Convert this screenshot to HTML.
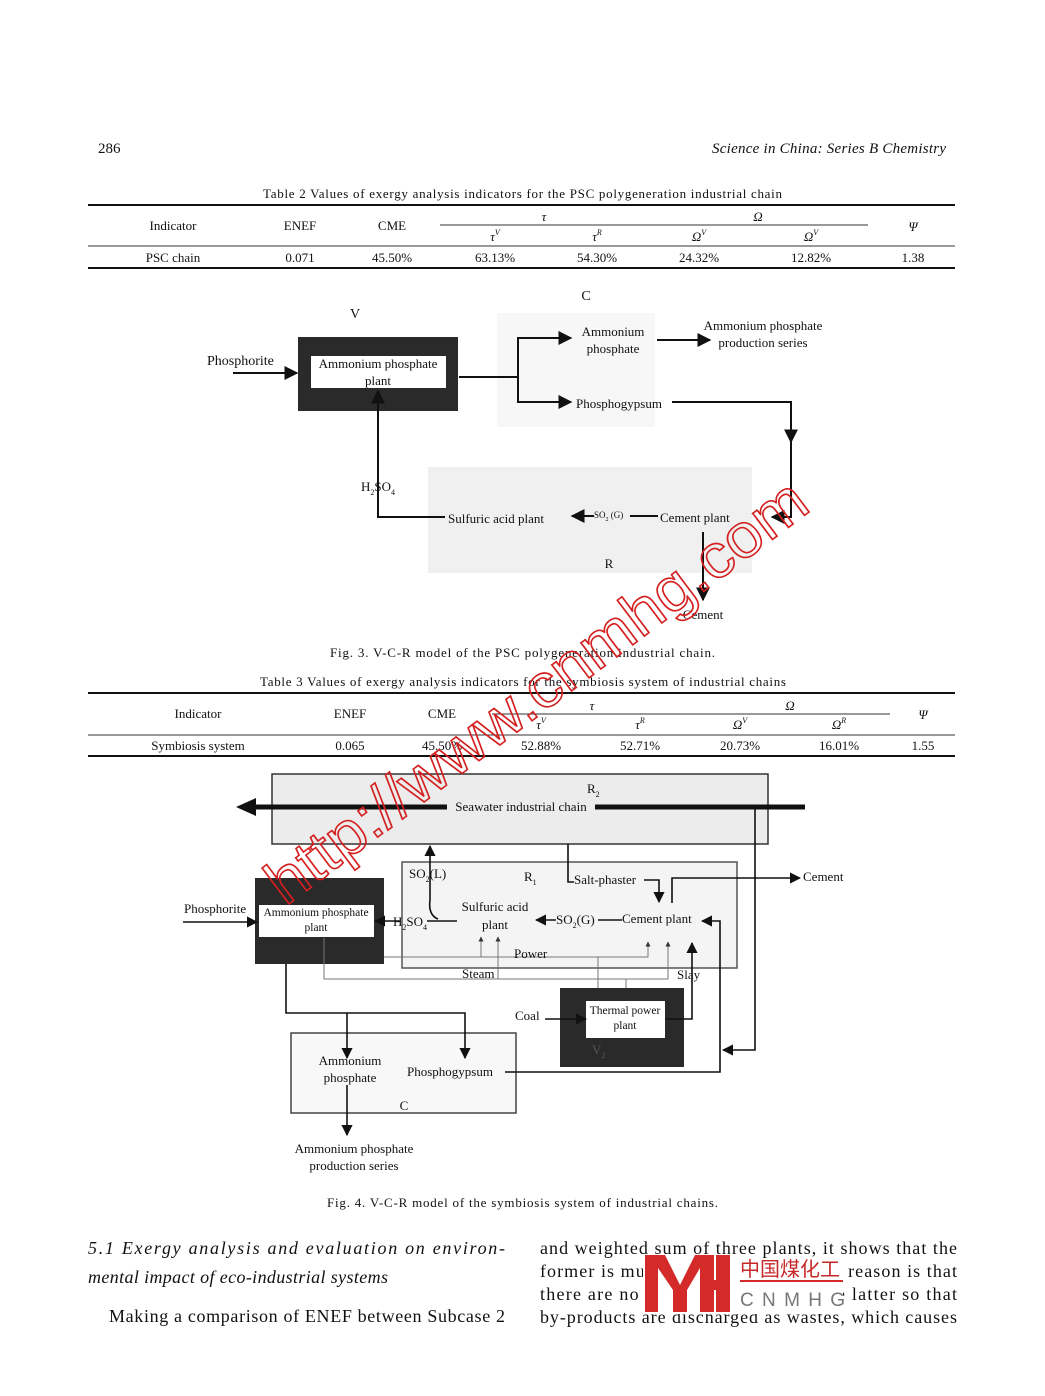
<!DOCTYPE html>
<html><head><meta charset="utf-8"><style>
html,body{margin:0;padding:0;background:#fff;}
svg{display:block;font-family:"Liberation Serif","Noto Serif CJK SC",serif;}
</style></head><body>
<svg width="1045" height="1396" viewBox="0 0 1045 1396" xmlns="http://www.w3.org/2000/svg">
<defs>
<marker id="a" viewBox="0 0 10 10" refX="9" refY="5" markerWidth="7" markerHeight="7" orient="auto-start-reverse"><path d="M0,0 L10,5 L0,10 z" fill="#111"/></marker>
<marker id="s" viewBox="0 0 10 10" refX="9" refY="5" markerWidth="5" markerHeight="5" orient="auto-start-reverse"><path d="M0,0 L10,5 L0,10 z" fill="#333"/></marker>
</defs>
<g fill="#111" font-size="15">
<text x="98" y="153">286</text>
<text x="946" y="153" text-anchor="end" font-style="italic" textLength="234" lengthAdjust="spacing">Science in China: Series B Chemistry</text>
</g>

<!-- Table 2 -->
<g font-size="13" fill="#111" text-anchor="middle">
<text x="263" y="198" text-anchor="start" textLength="519" lengthAdjust="spacing">Table 2    Values of exergy analysis indicators for the PSC polygeneration industrial chain</text>
<line x1="88" y1="205" x2="955" y2="205" stroke="#111" stroke-width="2"/>
<text x="173" y="230">Indicator</text><text x="300" y="230">ENEF</text><text x="392" y="230">CME</text>
<text x="544" y="221" font-style="italic">τ</text><text x="758" y="221" font-style="italic">Ω</text>
<line x1="440" y1="225" x2="868" y2="225" stroke="#333" stroke-width="1"/>
<text x="495" y="241" font-style="italic">τ<tspan font-size="8" dy="-6">V</tspan></text>
<text x="597" y="241" font-style="italic">τ<tspan font-size="8" dy="-6">R</tspan></text>
<text x="699" y="241" font-style="italic">Ω<tspan font-size="8" dy="-6">V</tspan></text>
<text x="811" y="241" font-style="italic">Ω<tspan font-size="8" dy="-6">V</tspan></text>
<text x="913" y="231" font-style="italic">Ψ</text>
<line x1="88" y1="246" x2="955" y2="246" stroke="#333" stroke-width="1"/>
<text x="173" y="262">PSC chain</text><text x="300" y="262">0.071</text><text x="392" y="262">45.50%</text>
<text x="495" y="262">63.13%</text><text x="597" y="262">54.30%</text><text x="699" y="262">24.32%</text><text x="811" y="262">12.82%</text><text x="913" y="262">1.38</text>
<line x1="88" y1="268" x2="955" y2="268" stroke="#111" stroke-width="2"/>
</g>

<!-- Fig 3 -->
<rect x="497" y="313" width="158" height="114" fill="#f7f7f7"/>
<rect x="428" y="467" width="324" height="106" fill="#f0f0f0"/>
<g font-size="14" fill="#111">
<text x="355" y="318" text-anchor="middle">V</text>
<text x="586" y="300" text-anchor="middle">C</text>
<text x="207" y="365">Phosphorite</text>
<rect x="298" y="337" width="160" height="74" fill="#2a2a2a"/>
<rect x="311" y="356" width="135" height="32" fill="#fff"/>
<text x="378" y="368" text-anchor="middle" font-size="13">Ammonium phosphate</text>
<text x="378" y="385" text-anchor="middle" font-size="13">plant</text>
<text x="613" y="336" text-anchor="middle" font-size="13">Ammonium</text>
<text x="613" y="353" text-anchor="middle" font-size="13">phosphate</text>
<text x="763" y="330" text-anchor="middle" font-size="13">Ammonium phosphate</text>
<text x="763" y="347" text-anchor="middle" font-size="13">production series</text>
<text x="576" y="408" font-size="13">Phosphogypsum</text>
<text x="448" y="523" font-size="13">Sulfuric acid plant</text>
<text x="594" y="518" font-size="9">SO<tspan font-size="6" dy="3">2</tspan><tspan dy="-3"> (G)</tspan></text>
<text x="660" y="522" font-size="13">Cement plant</text>
<text x="361" y="491" font-size="13">H<tspan font-size="8" dy="4">2</tspan><tspan dy="-4">SO</tspan><tspan font-size="8" dy="4">4</tspan></text>
<text x="609" y="568" text-anchor="middle" font-size="13">R</text>
<text x="703" y="619" text-anchor="middle" font-size="13">Cement</text>
</g>
<g stroke="#111" stroke-width="2" fill="none">
<line x1="233" y1="373" x2="297" y2="373" marker-end="url(#a)"/>
<polyline points="459,377 518,377"/>
<polyline points="571,338 518,338 518,402 571,402" marker-start="url(#a)" marker-end="url(#a)"/>
<line x1="657" y1="340" x2="710" y2="340" marker-end="url(#a)"/>
<polyline points="672,402 791,402 791,440"/>
<polyline points="791,430 791,517 772,517" marker-end="url(#a)"/>
<line x1="791" y1="428" x2="791" y2="442" marker-end="url(#a)"/>
<line x1="594" y1="516" x2="572" y2="516" marker-end="url(#a)"/>
<line x1="630" y1="516" x2="658" y2="516"/>
<polyline points="445,517 378,517 378,391" marker-end="url(#a)"/>
<line x1="703" y1="532" x2="703" y2="600" marker-end="url(#a)"/>
</g>
<text x="330" y="657" font-size="13" fill="#111" textLength="385" lengthAdjust="spacing">Fig. 3.    V-C-R model of the PSC polygeneration industrial chain.</text>

<!-- Table 3 -->
<g font-size="13" fill="#111" text-anchor="middle">
<text x="260" y="686" text-anchor="start" textLength="526" lengthAdjust="spacing">Table 3    Values of exergy analysis indicators for the symbiosis system of industrial chains</text>
<line x1="88" y1="693" x2="955" y2="693" stroke="#111" stroke-width="2"/>
<text x="198" y="718">Indicator</text><text x="350" y="718">ENEF</text><text x="442" y="718">CME</text>
<text x="592" y="710" font-style="italic">τ</text><text x="790" y="710" font-style="italic">Ω</text>
<line x1="492" y1="714" x2="890" y2="714" stroke="#333" stroke-width="1"/>
<text x="541" y="729" font-style="italic">τ<tspan font-size="8" dy="-6">V</tspan></text>
<text x="640" y="729" font-style="italic">τ<tspan font-size="8" dy="-6">R</tspan></text>
<text x="740" y="729" font-style="italic">Ω<tspan font-size="8" dy="-6">V</tspan></text>
<text x="839" y="729" font-style="italic">Ω<tspan font-size="8" dy="-6">R</tspan></text>
<text x="923" y="719" font-style="italic">Ψ</text>
<line x1="88" y1="735" x2="955" y2="735" stroke="#333" stroke-width="1"/>
<text x="198" y="750">Symbiosis system</text><text x="350" y="750">0.065</text><text x="442" y="750">45.50%</text>
<text x="541" y="750">52.88%</text><text x="640" y="750">52.71%</text><text x="740" y="750">20.73%</text><text x="839" y="750">16.01%</text><text x="923" y="750">1.55</text>
<line x1="88" y1="756" x2="955" y2="756" stroke="#111" stroke-width="2"/>
</g>

<!-- Fig 4 -->
<rect x="272" y="774" width="496" height="70" fill="#ececec" stroke="#333" stroke-width="1.5"/>
<rect x="402" y="862" width="335" height="106" fill="#f4f4f4" stroke="#555" stroke-width="1.5"/>
<rect x="291" y="1033" width="225" height="80" fill="#f8f8f8" stroke="#444" stroke-width="1.5"/>
<rect x="255" y="878" width="129" height="86" fill="#2a2a2a"/>
<rect x="259" y="905" width="115" height="32" fill="#fff"/>
<rect x="560" y="988" width="124" height="79" fill="#2a2a2a"/>
<rect x="586" y="1001" width="79" height="37" fill="#fff"/>
<line x1="252" y1="807" x2="805" y2="807" stroke="#111" stroke-width="5"/>
<path d="M236,807 L256,798 L256,816 z" fill="#111"/>
<rect x="447" y="798" width="148" height="17" fill="#ececec"/>
<g stroke="#777" stroke-width="1" fill="none">
<polyline points="384,957 648,957 648,942" marker-end="url(#s)"/>
<line x1="481" y1="957" x2="481" y2="937" marker-end="url(#s)"/>
<line x1="498" y1="979" x2="498" y2="937" marker-end="url(#s)"/>
<polyline points="324,938 324,979 668,979 668,942" marker-end="url(#s)"/>
<line x1="598" y1="988" x2="598" y2="957"/>
<line x1="626" y1="988" x2="626" y2="979"/>
</g>
<g stroke="#111" stroke-width="1.6" fill="none">
<line x1="183" y1="922" x2="257" y2="922" marker-end="url(#a)"/>
<line x1="400" y1="921" x2="375" y2="921" marker-end="url(#a)"/>
<line x1="427" y1="921" x2="457" y2="921"/>
<path d="M438,919 Q428,915 430,900 L430,846" marker-end="url(#a)"/>
<line x1="556" y1="920" x2="536" y2="920" marker-end="url(#a)"/>
<line x1="598" y1="920" x2="622" y2="920"/>
<polyline points="568,844 568,882 574,882"/>
<polyline points="644,880 659,880 659,902" marker-end="url(#a)"/>
<polyline points="672,903 672,878 800,878" marker-end="url(#a)"/>
<polyline points="505,1072 720,1072 720,921 702,921" marker-end="url(#a)"/>
<polyline points="665,1019 692,1019 692,943" marker-end="url(#a)"/>
<line x1="545" y1="1019" x2="586" y2="1019" marker-end="url(#a)"/>
<polyline points="755,807 755,1050 723,1050 Q720,1044 717,1050 L626,1050 626,1040" marker-end="url(#a)"/>
<polyline points="286,964 286,1013 465,1013 465,1058" marker-end="url(#a)"/>
<line x1="347" y1="1013" x2="347" y2="1058" marker-end="url(#a)"/>
<line x1="347" y1="1085" x2="347" y2="1135" marker-end="url(#a)"/>
</g>
<g font-size="13" fill="#111">
<text x="587" y="793" font-size="13">R<tspan font-size="8" dy="4">2</tspan></text>
<text x="521" y="811" text-anchor="middle">Seawater industrial chain</text>
<text x="409" y="878">SO<tspan font-size="8" dy="4">2</tspan><tspan dy="-4">(L)</tspan></text>
<text x="524" y="881">R<tspan font-size="8" dy="4">1</tspan></text>
<text x="574" y="884">Salt-phaster</text>
<text x="803" y="881">Cement</text>
<text x="184" y="913">Phosphorite</text>
<text x="316" y="916" text-anchor="middle" font-size="11.5">Ammonium phosphate</text>
<text x="316" y="931" text-anchor="middle" font-size="11.5">plant</text>
<text x="393" y="926">H<tspan font-size="8" dy="4">2</tspan><tspan dy="-4">SO</tspan><tspan font-size="8" dy="4">4</tspan></text>
<text x="495" y="911" text-anchor="middle">Sulfuric acid</text>
<text x="495" y="929" text-anchor="middle">plant</text>
<text x="556" y="924">SO<tspan font-size="8" dy="4">2</tspan><tspan dy="-4">(G)</tspan></text>
<text x="622" y="923">Cement plant</text>
<text x="514" y="958">Power</text>
<text x="462" y="978">Steam</text>
<text x="677" y="979">Slay</text>
<text x="515" y="1020">Coal</text>
<text x="625" y="1014" text-anchor="middle" font-size="11.5">Thermal power</text>
<text x="625" y="1029" text-anchor="middle" font-size="11.5">plant</text>
<text x="592" y="1054" fill="#555">V<tspan font-size="8" dy="4">2</tspan></text>
<text x="350" y="1065" text-anchor="middle">Ammonium</text>
<text x="350" y="1082" text-anchor="middle">phosphate</text>
<text x="407" y="1076">Phosphogypsum</text>
<text x="404" y="1110" text-anchor="middle">C</text>
<text x="354" y="1153" text-anchor="middle">Ammonium phosphate</text>
<text x="354" y="1170" text-anchor="middle">production series</text>
</g>
<text x="327" y="1207" font-size="13" fill="#111" textLength="391" lengthAdjust="spacing">Fig. 4.    V-C-R model of the symbiosis system of industrial chains.</text>

<!-- watermark -->
<text x="537" y="712" text-anchor="middle" font-family="Liberation Sans, sans-serif" font-size="62" fill="none" stroke="#d42020" stroke-width="1.6" textLength="660" lengthAdjust="spacingAndGlyphs" transform="rotate(-37 537 692)">http://www.cnmhg.com</text>

<!-- bottom text -->
<g font-size="18" fill="#111">
<text x="88" y="1254" font-style="italic" textLength="417" lengthAdjust="spacing">5.1    Exergy analysis and evaluation on environ-</text>
<text x="88" y="1283" font-style="italic" textLength="300" lengthAdjust="spacing">mental impact of eco-industrial systems</text>
<text x="109" y="1322" textLength="396" lengthAdjust="spacing">Making a comparison of ENEF between Subcase 2</text>
<text x="540" y="1254" textLength="417" lengthAdjust="spacing">and weighted sum of three plants, it shows that the</text>
<text x="540" y="1277" textLength="417" lengthAdjust="spacing">former is much higher than that. The reason is that</text>
<text x="540" y="1300" textLength="417" lengthAdjust="spacing">there are no chains of cascade in the latter so that</text>
<text x="540" y="1323" textLength="417" lengthAdjust="spacing">by-products are discharged as wastes, which causes</text>
</g>
<!-- logo -->
<rect x="643" y="1258" width="200" height="56" fill="#fff"/>
<g fill="#d42a2a">
<polygon points="645,1255 665,1255 680,1285 695,1255 700,1255 700,1268 687,1290 687,1312 673,1312 673,1290 658,1268 658,1312 645,1312"/>
<rect x="700" y="1255" width="14" height="57"/>
<rect x="716" y="1255" width="14" height="57"/>
<rect x="700" y="1280" width="30" height="10"/>
<rect x="740" y="1280" width="103" height="2"/>
</g>
<text x="740" y="1276" font-family="Noto Sans CJK SC, sans-serif" font-size="20" fill="#c62828" textLength="100">中国煤化工</text>
<text x="740" y="1306" font-family="Liberation Sans, sans-serif" font-size="19" fill="#777" textLength="105" lengthAdjust="spacing">CNMHG</text>
</svg>
</body></html>
